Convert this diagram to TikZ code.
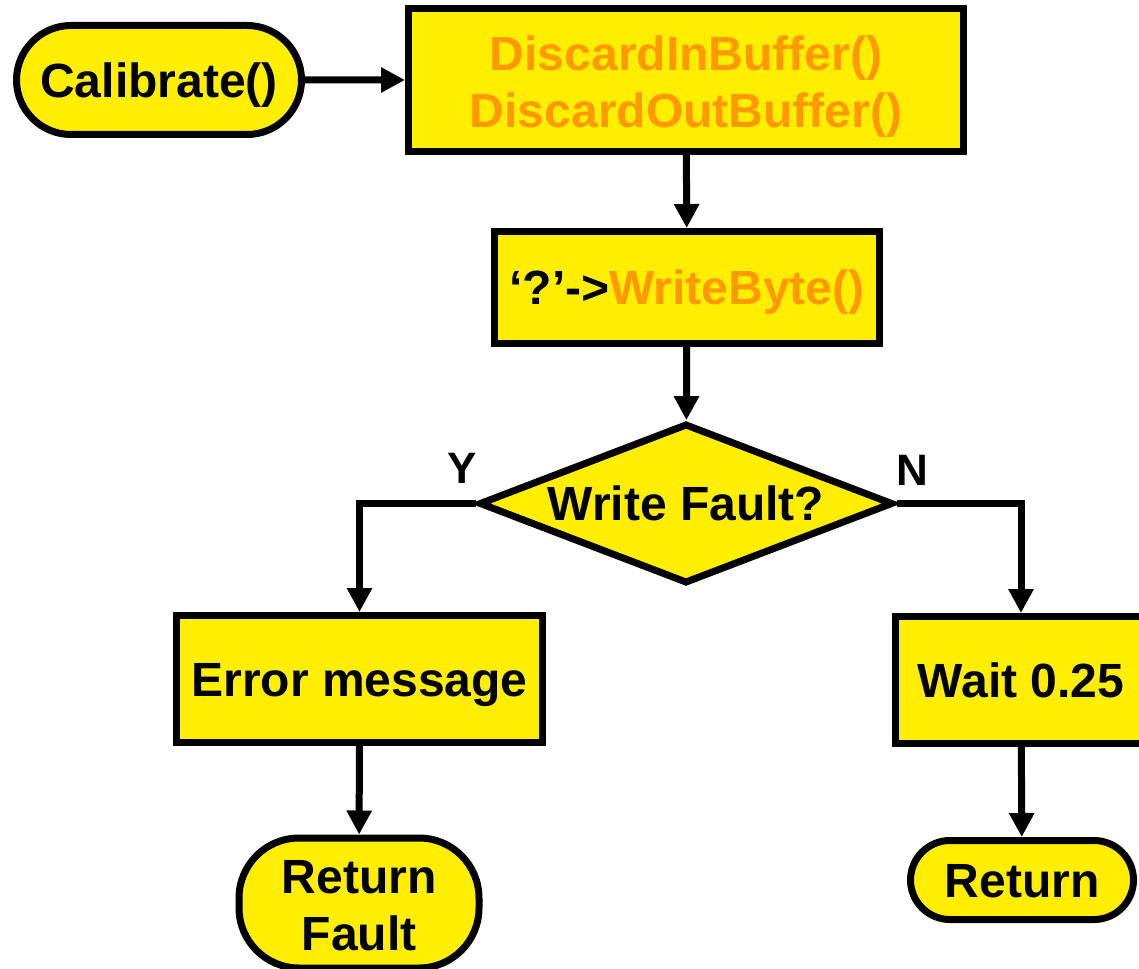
\documentclass[tikz,border=0pt]{standalone}
\usepackage{fontspec}
\setmainfont{Liberation Sans}
\usetikzlibrary{shapes.misc,shapes.geometric,arrows.meta}
\definecolor{boxyellow}{HTML}{FFEE00}
\definecolor{fnorange}{HTML}{FF9900}
\tikzset{
  txt/.style={inner sep=0pt, align=center, font=\fontsize{24}{28.5}\selectfont\bfseries},
  base/.style={txt, draw=black, line width=3.5pt, fill=boxyellow},
  oneline/.style={text height=17.2pt, text depth=0pt},
  procbox/.style={base, rectangle},
  terminal/.style={base, rounded rectangle},
  decision/.style={base, diamond, aspect=2.6},
  flow/.style={line width=3.5pt, -{Triangle[length=12pt,width=12pt]}},
  branchlbl/.style={font=\fontsize{22}{26}\selectfont\bfseries, inner sep=0pt},
}
\begin{document}
\begin{tikzpicture}[x=0.5pt,y=-0.5pt]
\useasboundingbox (0,0) rectangle (1139,968);
\clip (0,0) rectangle (1139,968);

\node[terminal, oneline, minimum width=142.5pt, minimum height=54.5pt] (cal) at (159,80) {Calibrate()};
\node[procbox, minimum width=277.5pt, minimum height=71.5pt] (disc) at (686,80) {};
\node[txt, text=fnorange] (disctxt) at ([yshift=-3.5pt]disc.center)
  {DiscardInBuffer()\\DiscardOutBuffer()};
\node[procbox, oneline, minimum width=192.5pt, minimum height=56pt] (wb) at (687,287.5)
  {‘?’->\textcolor{fnorange}{WriteByte()}};
\node[decision, oneline, minimum width=207pt, minimum height=80pt] (wf) at (686,503.5) {Write Fault?};
\node[procbox, oneline, minimum width=183pt, minimum height=63.5pt] (err) at (359.5,679) {Error message};
\node[procbox, oneline, minimum width=125.5pt, minimum height=63.5pt] (wait) at (1021,680) {Wait 0.25};
\node[base, rectangle, rounded corners=30pt, minimum width=120pt, minimum height=65pt] (rf) at (359,903) {};
\node[txt] (rftxt) at ([yshift=-1.25pt]rf.center) {Return\\Fault};
\node[terminal, oneline, minimum width=111.5pt, minimum height=39.5pt] (ret) at (1022,880) {Return};

\node[branchlbl] (ylbl) at (462,468) {Y};
\node[branchlbl] (nlbl) at (912,470) {N};

\draw[flow] (cal) -- (disc);
\draw[flow] (disc) -- (wb);
\draw[flow] (wb) -- (wf);
\draw[flow] (wf.west) -| (err.north);
\draw[flow] (wf.east) -| (wait.north);
\draw[flow] (err) -- (rf);
\draw[flow] (wait) -- (ret);
\end{tikzpicture}
\end{document}
